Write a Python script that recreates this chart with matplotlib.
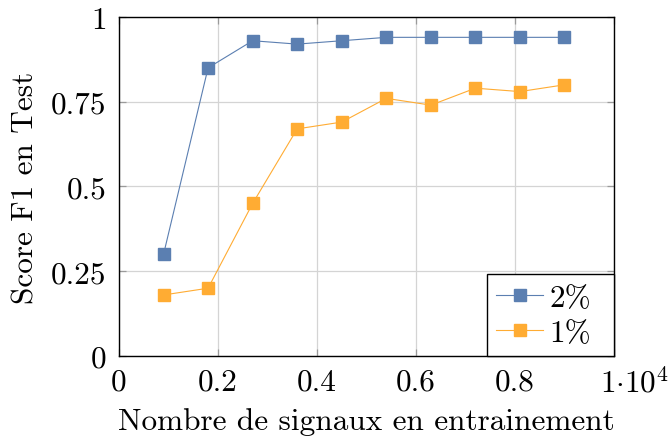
import matplotlib
matplotlib.use("Agg")
import matplotlib.pyplot as plt
from matplotlib.transforms import ScaledTranslation

plt.rcParams['font.family'] = ['cmr10', 'DejaVu Serif']
plt.rcParams['mathtext.fontset'] = 'cm'
plt.rcParams['axes.unicode_minus'] = False

x_vals = [900, 1800, 2700, 3600, 4500, 5400, 6300, 7200, 8100, 9000]
f1_2pct = [0.30, 0.85, 0.93, 0.92, 0.93, 0.94, 0.94, 0.94, 0.94, 0.94]
f1_1pct = [0.18, 0.20, 0.45, 0.67, 0.69, 0.76, 0.74, 0.79, 0.78, 0.80]
x_ticks = [0, 2000, 4000, 6000, 8000, 10000]
x_tick_labels = ['0', '0.2', '0.4', '0.6', '0.8', r'$1{\cdot}10^4$']
y_ticks = [0, 0.25, 0.5, 0.75, 1]
y_tick_labels = ['0', '0.25', '0.5', '0.75', '1']

blue = '#5b7fb1'
orange = '#ffac33'
FS = 22.5

fig = plt.figure(figsize=(6.7, 4.39), dpi=100)
ax = fig.add_axes([0.1776, 0.1868, 0.7388, 0.7722])

ax.plot(x_vals, f1_2pct, color=blue, lw=0.8, marker='s', ms=8.5,
        markeredgecolor=blue, label='2%')
ax.plot(x_vals, f1_1pct, color=orange, lw=0.8, marker='s', ms=8.5,
        markeredgecolor=orange, label='1%')

ax.set_xlim(0, 10000)
ax.set_ylim(0, 1)
ax.set_xticks(x_ticks)
ax.set_xticklabels(x_tick_labels)
ax.set_yticks(y_ticks)
ax.set_yticklabels(y_tick_labels)
ax.grid(True, color='#d4d4d4', lw=0.9)
ax.set_axisbelow(True)
ax.tick_params(direction='in', length=5, width=0.9, color='#9a9a9a',
               top=True, right=True, labelsize=FS)
ax.tick_params(axis='x', pad=8)
ax.tick_params(axis='y', pad=9)
for s in ax.spines.values():
    s.set_linewidth(1.0)
    s.set_color('black')

last = ax.get_xticklabels()[-1]
last.set_ha('left')
last.set_transform(last.get_transform() +
                   ScaledTranslation(-14 / 100, 0, fig.dpi_scale_trans))

ax.set_xlabel('Nombre de signaux en entrainement', fontsize=FS, labelpad=6)
ax.set_ylabel('Score F1 en Test', fontsize=FS, labelpad=8)

leg = ax.legend(loc='lower left', bbox_to_anchor=(0.7434, 0.0, 0.2566, 0.26),
                mode='expand', borderaxespad=0, fontsize=FS,
                fancybox=False, framealpha=1, edgecolor='black',
                handlelength=1.5, handletextpad=0.2, borderpad=0.3,
                labelspacing=0.22)
leg.get_frame().set_linewidth(1.0)

fig.savefig('out.png', dpi=100)
